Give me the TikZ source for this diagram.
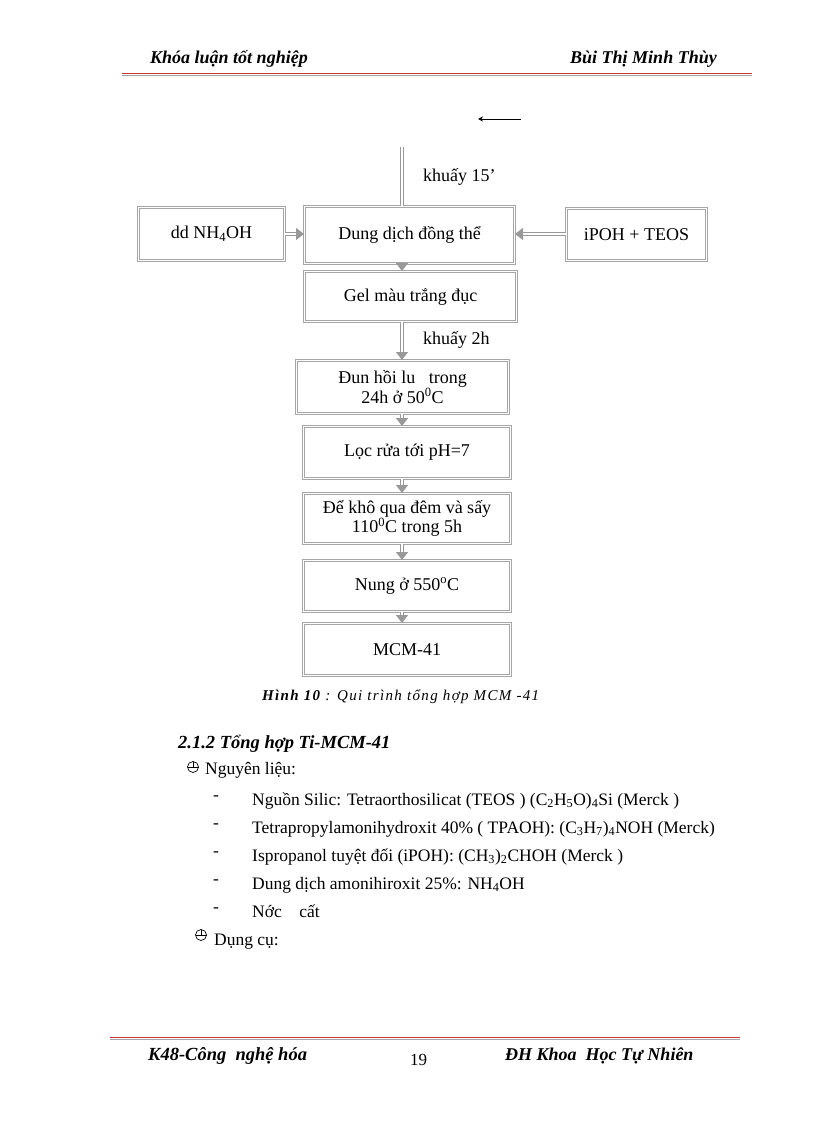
\documentclass[tikz,border=0pt]{standalone}
\usepackage{fontspec}
\setmainfont{Liberation Serif}
\usetikzlibrary{arrows.meta}
\begin{document}
\begin{tikzpicture}[x=1pt,y=-1pt,
  box/.style={draw=gray!70, double=white, double distance=1.6pt, line width=1pt, inner sep=0pt, align=center, font=\fontsize{18}{17}\selectfont},
  flow/.style={draw=gray!80, double=white, double distance=1.5pt, line width=1.2pt, -{Triangle[length=8pt,width=12pt,fill=gray!80]}},
  plain/.style={draw=gray!80, double=white, double distance=1.5pt, line width=1.2pt},
  txt/.style={inner sep=0pt, anchor=base west, font=\fontsize{17.5}{19}\selectfont},
  hdr/.style={inner sep=0pt, anchor=base west, font=\fontsize{18}{20}\selectfont\bfseries\itshape},
  clk/.style={line width=0.7pt}
]
\useasboundingbox (0,0) rectangle (816,1123);
\fill[white] (0,0) rectangle (816,1123);

% header
\node[hdr] (h1) at (150,64) {Khóa luận tốt nghiệp};
\node[hdr] (h2) at (570,64) {Bùi Thị Minh Thùy};
\draw[red!55!gray, line width=0.9pt] (122,73) -- (752,73);
\draw[gray!70, line width=0.9pt] (122,75.8) -- (752,75.8);

% small top arrow
\coordinate (ta) at (521,119);
\coordinate (tb) at (478,119);
\draw[-{Stealth[length=5pt,width=5pt]}, line width=0.7pt] (ta) -- (tb);

% boxes
\node[box, minimum width=146pt, minimum height=53pt] (nh4) at (211.5,234) {dd NH\textsubscript{4}OH};
\node[box, minimum width=210pt, minimum height=57pt] (dung) at (409.5,235) {Dung dịch đồng thể};
\node[box, minimum width=140pt, minimum height=52pt] (ipoh) at (636.5,234.5) {iPOH + TEOS};
\node[box, minimum width=212pt, minimum height=50pt] (gel) at (410.5,296.5) {Gel màu trắng đục};
\node[box, minimum width=212pt, minimum height=53pt] (dun) at (402.5,387) {Đun hồi lu\ \ \ trong\\24h ở 50\textsuperscript{0}C};
\node[box, minimum width=207pt, minimum height=52pt] (loc) at (407,452.5) {Lọc rửa tới pH=7};
\node[box, minimum width=207pt, minimum height=50pt] (dekho) at (407,518.5) {Để khô qua đêm và sấy\\110\textsuperscript{0}C trong 5h};
\node[box, minimum width=207pt, minimum height=51pt] (nung) at (407,586) {Nung ở 550\textsuperscript{o}C};
\node[box, minimum width=207pt, minimum height=52pt] (mcm) at (407,649.5) {MCM-41};

% connectors
\coordinate (start) at (402,147);
\draw[plain] (start) -- (dung.north -| start);
\node[txt, font=\fontsize{18}{20}\selectfont] (k15) at (423,182) {khuấy 15’};
\draw[flow] (nh4.east |- 0,234) -- (dung.west |- 0,234);
\draw[flow] (ipoh.west |- 0,234) -- (dung.east |- 0,234);
\draw[flow] (dung.south -| start) -- (gel.north -| start);
\draw[flow] (gel.south -| start) -- (dun.north -| start);
\node[txt, font=\fontsize{18}{20}\selectfont] (k2) at (423,344) {khuấy 2h};
\draw[flow] (dun.south -| start) -- (loc.north -| start);
\draw[flow] (loc.south -| start) -- (dekho.north -| start);
\draw[flow] (dekho.south -| start) -- (nung.north -| start);
\draw[flow] (nung.south -| start) -- (mcm.north -| start);

% caption
\node[inner sep=0pt, anchor=base west, font=\fontsize{15}{17}\selectfont\itshape\addfontfeature{LetterSpace=9}] (cap) at (262,700) {\textbf{Hình 10} : Qui trình tổng hợp MCM -41};

% section
\node[hdr, font=\fontsize{18.5}{20}\selectfont\bfseries\itshape] (sec) at (178,748) {2.1.2 Tổng hợp Ti-MCM-41};
\draw[clk] (193,767) circle (5.5pt);
\draw[clk] (193,761.5) -- (193,767) -- (198.5,767);
\draw[clk] (187.5,767) -- (193,767);
\node[txt] (nl) at (205,774) {Nguyên liệu:};
\foreach \y/\t [count=\i] in {
  805/{Nguồn Silic: Tetraorthosilicat (TEOS ) (C\textsubscript{2}H\textsubscript{5}O)\textsubscript{4}Si (Merck )},
  833/{Tetrapropylamonihydroxit 40\% ( TPAOH): (C\textsubscript{3}H\textsubscript{7})\textsubscript{4}NOH (Merck)},
  861/{Ispropanol tuyệt đối (iPOH): (CH\textsubscript{3})\textsubscript{2}CHOH (Merck )},
  889/{Dung dịch amonihiroxit 25\%: NH\textsubscript{4}OH},
  917/{Nớc\ \ \ \ cất}}
{
  \node[txt] (d\i) at (213,\y-5) {-};
  \node[txt] (it\i) at (252,\y) {\t};
}
\draw[clk] (201,935) circle (5.5pt);
\draw[clk] (201,929.5) -- (201,935) -- (206.5,935);
\draw[clk] (195.5,935) -- (201,935);
\node[txt] (dc) at (214,945) {Dụng cụ:};

% footer
\draw[red!55!gray, line width=0.9pt] (110,1037) -- (740,1037);
\draw[gray!70, line width=0.9pt] (110,1039.8) -- (740,1039.8);
\node[hdr, font=\fontsize{18.5}{20}\selectfont\bfseries\itshape] (f1) at (148,1060) {K48-Công\ \ nghệ hóa};
\node[txt, font=\fontsize{17}{19}\selectfont] (f2) at (410,1065) {19};
\node[hdr, font=\fontsize{18}{20}\selectfont\bfseries\itshape] (f3) at (505,1060) {ĐH Khoa\ \ Học Tự Nhiên};
\end{tikzpicture}
\end{document}
